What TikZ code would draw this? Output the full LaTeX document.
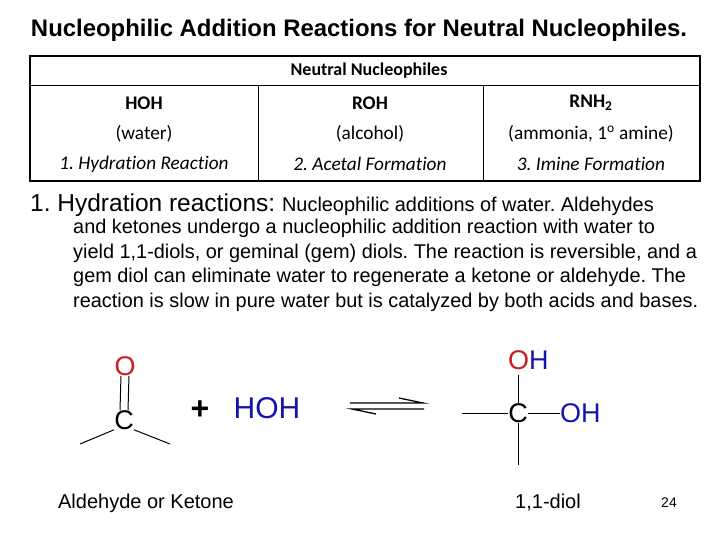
\documentclass[tikz,border=0pt]{standalone}
\usepackage{fontspec}
\setmainfont{Liberation Sans}
\newfontfamily\calfont[Ligatures={NoCommon}]{Carlito}
\definecolor{cred}{RGB}{200,30,30}
\definecolor{cblue}{RGB}{20,20,170}
\frenchspacing
\begin{document}
\begin{tikzpicture}[x=1pt,y=-1pt,
  tb/.style={font=\calfont\fontsize{19.3}{22}\selectfont,inner sep=0},
  tbb/.style={font=\calfont\bfseries\fontsize{19.3}{22}\selectfont,inner sep=0},
  tbi/.style={font=\calfont\itshape\fontsize{19.3}{22}\selectfont,inner sep=0},
  ch/.style={font=\fontsize{27}{30}\selectfont,inner sep=0},
  bond/.style={line width=1pt},
  para/.style={font=\fontsize{19.9}{24.6}\selectfont,inner sep=0,anchor=north west,align=left}]
\useasboundingbox (0,0) rectangle (720,540);
\node[inner sep=0,font=\bfseries\fontsize{23.9}{26}\selectfont] (title) at (359,30) {Nucleophilic Addition Reactions for Neutral Nucleophiles.};
% table
\draw[line width=1.3pt] (30,56) rectangle (700,181);
\draw[line width=1pt] (30,86) -- (700,86) (258,86) -- (258,181) (483,86) -- (483,181);
\node[tbb,font=\calfont\bfseries\fontsize{18}{20}\selectfont] (hd) at (369,71) {Neutral Nucleophiles};
\node[tbb] (a1) at (144,103) {HOH};
\node[tbb] (b1) at (370,103) {ROH};
\node[tbb] (c1) at (591,103) {RNH\textsubscript{2}};
\node[tb] (a2) at (144,134) {(water)};
\node[tb] (b2) at (370,134) {(alcohol)};
\node[tb] (c2) at (591,134) {(ammonia, 1\textsuperscript{o} amine)};
\node[tbi] (a3) at (144,164) {1. Hydration Reaction};
\node[tbi] (b3) at (370,164) {2. Acetal Formation};
\node[tbi] (c3) at (591,164) {3. Imine Formation};
% paragraph
\node[inner sep=0,anchor=west] (p0) at (30,205) {\fontsize{24.5}{27}\selectfont 1. Hydration reactions:\ \fontsize{19.9}{24}\selectfont Nucleophilic additions of water. Aldehydes};
\node[para] (p1) at (73,219) {and ketones undergo a nucleophilic addition reaction with water to\\yield 1,1-diols, or geminal (gem) diols. The reaction is reversible, and a\\gem diol can eliminate water to regenerate a ketone or aldehyde. The\\reaction is slow in pure water but is catalyzed by both acids and bases.};
% reactant
\node[ch,text=cred] (O1) at (125,366) {O};
\node[ch] (C1) at (124,420) {C};
\draw[bond] ([xshift=-4]O1.south) -- ([xshift=-4]C1.north) ([xshift=4]O1.south) -- ([xshift=4]C1.north);
\coordinate (L1) at (80,444); \coordinate (R1) at (170,444);
\draw[bond] (C1.south west) -- (L1) (C1.south east) -- (R1);
\node[inner sep=0,font=\bfseries\fontsize{32}{34}\selectfont] (plus) at (200,410) {+};
\node[ch,text=cblue,font=\fontsize{30}{32}\selectfont] (hoh) at (267,408) {HOH};
% equilibrium
\coordinate (e1) at (350,403); \coordinate (e2) at (423,403);
\coordinate (e3) at (352,409); \coordinate (e4) at (424,409);
\draw[line width=1.3pt] (e1) -- (e2) -- ++(-24,-5);
\draw[line width=1.3pt] (e4) -- (e3) -- ++(24,5);
% product
\node[ch] (C2) at (518,413) {C};
\node[ch,anchor=west] (O2) at (508,360) {\textcolor{cred}{O}\textcolor{cblue}{H}};
\node[ch,anchor=west] (O3) at (560,413) {\textcolor{cblue}{OH}};
\coordinate (T2) at (518,375); \coordinate (B2) at (518,465); \coordinate (L2) at (462,413);
\draw[bond] (T2) -- (C2.north) (C2.south) -- (B2) (L2) -- (C2.west) (C2.east) -- (O3.west);
\node[inner sep=0,font=\fontsize{20}{22}\selectfont] (lab1) at (146,503) {Aldehyde or Ketone};
\node[inner sep=0,font=\fontsize{20}{22}\selectfont] (lab2) at (548,503) {1,1-diol};
\node[inner sep=0,font=\fontsize{14}{16}\selectfont] (pg) at (669,503) {24};
\end{tikzpicture}
\end{document}
